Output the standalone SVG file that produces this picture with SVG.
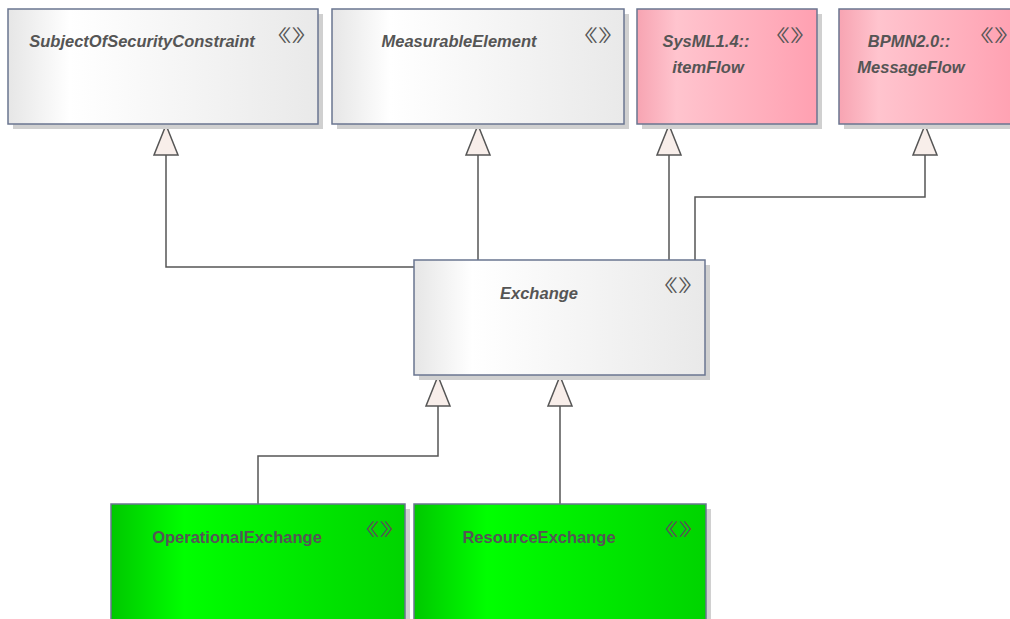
<svg xmlns="http://www.w3.org/2000/svg" width="1010" height="619" viewBox="0 0 1010 619">
<defs>
<linearGradient id="gGrey" x1="0" y1="0" x2="1" y2="0">
<stop offset="0" stop-color="#e6e6e6"/>
<stop offset="0.2" stop-color="#ffffff"/>
<stop offset="1" stop-color="#e9e9e9"/>
</linearGradient>
<linearGradient id="gPink" x1="0" y1="0" x2="1" y2="0">
<stop offset="0" stop-color="#f7a4b2"/>
<stop offset="0.22" stop-color="#ffc4ce"/>
<stop offset="1" stop-color="#ffa0b1"/>
</linearGradient>
<linearGradient id="gGreen" x1="0" y1="0" x2="1" y2="0">
<stop offset="0" stop-color="#00c800"/>
<stop offset="0.25" stop-color="#00ff00"/>
<stop offset="1" stop-color="#00d400"/>
</linearGradient>
</defs>
<style>
.shadow{fill:#d0d0d0;}
.box{stroke:#6a7590;stroke-width:1.5;}
.grey{fill:url(#gGrey);}
.pink{fill:url(#gPink);}
.green{fill:url(#gGreen);}
.t{font-family:"Liberation Sans",Arial,sans-serif;font-weight:bold;font-style:italic;font-size:16.5px;fill:#555555;text-anchor:middle;}
.tn{font-family:"Liberation Sans",Arial,sans-serif;font-weight:bold;font-size:16.5px;fill:#555555;text-anchor:middle;}
.st{font-family:"Noto Sans CJK SC","Noto Sans CJK JP",sans-serif;font-size:17px;fill:#555555;text-anchor:middle;}
.c{fill:none;stroke:#555555;stroke-width:1.5;}
.tri{fill:#f8eeea;stroke:#555555;stroke-width:1.5;}
</style>
<rect width="1010" height="619" fill="#ffffff"/>

<g id="connectors">
<path class="c" d="M166,155 V267 H414"/>
<path class="c" d="M478,155 V260"/>
<path class="c" d="M669,155 V260"/>
<path class="c" d="M925,155 V197 H695 V260"/>
<path class="c" d="M438,406 V456 H258 V504"/>
<path class="c" d="M560,406 V504"/>
<path class="tri" d="M166,125 L178,155 L154,155 Z"/>
<path class="tri" d="M478,125 L490,155 L466,155 Z"/>
<path class="tri" d="M669,125 L681,155 L657,155 Z"/>
<path class="tri" d="M925,125 L937,155 L913,155 Z"/>
<path class="tri" d="M438,376 L450,406 L426,406 Z"/>
<path class="tri" d="M560,376 L572,406 L548,406 Z"/>
</g>

<g id="SubjectOfSecurityConstraint">
<rect class="shadow" x="13" y="14" width="310" height="115"/>
<rect class="box grey" x="8" y="9" width="310" height="115"/>
<text class="t" x="142" y="47">SubjectOfSecurityConstraint</text>
<text class="st" transform="translate(291.5,42) scale(1.6,1)">《》</text>
</g>

<g id="MeasurableElement">
<rect class="shadow" x="337" y="14" width="292" height="115"/>
<rect class="box grey" x="332" y="9" width="292" height="115"/>
<text class="t" x="459" y="47">MeasurableElement</text>
<text class="st" transform="translate(598,42) scale(1.6,1)">《》</text>
</g>

<g id="SysML_itemFlow">
<rect class="shadow" x="642" y="14" width="180" height="115"/>
<rect class="box pink" x="637" y="9" width="180" height="115"/>
<text class="t" x="706" y="47">SysML1.4::</text>
<text class="t" x="708" y="73">itemFlow</text>
<text class="st" transform="translate(790,42) scale(1.6,1)">《》</text>
</g>

<g id="BPMN_MessageFlow">
<rect class="shadow" x="844" y="14" width="180" height="115"/>
<rect class="box pink" x="839" y="9" width="180" height="115"/>
<text class="t" x="909" y="47">BPMN2.0::</text>
<text class="t" x="911" y="73">MessageFlow</text>
<text class="st" transform="translate(994,42) scale(1.6,1)">《》</text>
</g>

<g id="Exchange">
<rect class="shadow" x="419" y="265" width="291" height="115"/>
<rect class="box grey" x="414" y="260" width="291" height="115"/>
<text class="t" x="539" y="299">Exchange</text>
<text class="st" transform="translate(678,292) scale(1.6,1)">《》</text>
</g>

<g id="OperationalExchange">
<rect class="shadow" x="116" y="509" width="294" height="115"/>
<rect class="box green" x="111" y="504" width="294" height="120"/>
<text class="tn" x="237" y="543">OperationalExchange</text>
<text class="st" transform="translate(379.5,536) scale(1.6,1)">《》</text>
</g>

<g id="ResourceExchange">
<rect class="shadow" x="419" y="509" width="292" height="115"/>
<rect class="box green" x="414" y="504" width="292" height="120"/>
<text class="tn" x="539" y="543">ResourceExchange</text>
<text class="st" transform="translate(678.5,536) scale(1.6,1)">《》</text>
</g>
</svg>
